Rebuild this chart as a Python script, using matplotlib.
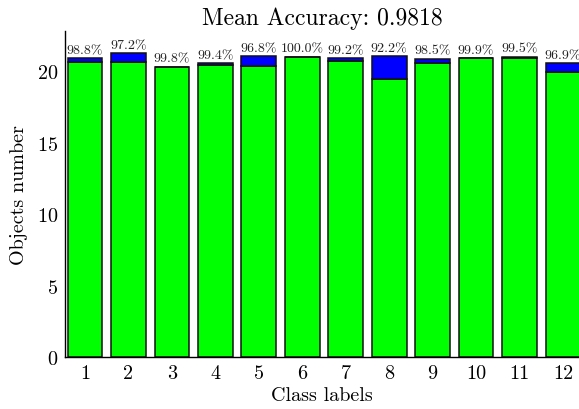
import matplotlib
matplotlib.use('Agg')
import matplotlib.pyplot as plt
import numpy as np

# ── Style ─────────────────────────────────────────────────────────────────────

matplotlib.rcParams.update({
    "font.family": "cmr10",
    "mathtext.fontset": "cm",
    "axes.formatter.use_mathtext": True,
    "axes.spines.top": False,
    "axes.spines.right": False,
})

CORRECT_COLOUR = "#00FF00"
WRONG_COLOUR = "#0000FF"

# ── Data ──────────────────────────────────────────────────────────────────────

class_labels = ['1', '2', '3', '4', '5', '6', '7', '8', '9', '10', '11', '12']
# objects per class (averaged over runs)
class_totals = [20.9, 21.25, 20.3, 20.55, 21.05, 21.0, 20.9, 21.05, 20.85, 20.9, 21.0, 20.55]
# per-class accuracy in percent
class_accuracy = [98.8, 97.2, 99.8, 99.4, 96.8, 100.0, 99.2, 92.2, 98.5, 99.9, 99.5, 96.9]

# ── Plot ──────────────────────────────────────────────────────────────────────

x = np.arange(1, len(class_labels) + 1)
totals = np.array(class_totals)
acc = np.array(class_accuracy) / 100.0
correct = totals * acc
wrong = totals - correct
mean_acc = np.mean(acc)

fig = plt.figure(figsize=(5.79, 4.10), dpi=100)
ax = fig.add_axes([65 / 579, 52 / 410, 1 - 65 / 579, (358 - 32) / 410])

ax.bar(x, correct, width=0.8, color=CORRECT_COLOUR, edgecolor='#111111', linewidth=1.1)
ax.bar(x, wrong, width=0.8, bottom=correct, color=WRONG_COLOUR,
       edgecolor='#111111', linewidth=1.1)

# accuracy label above each stacked bar (last one runs off the canvas)
for xi, tot, a in zip(x, totals, class_accuracy):
    ax.text(xi, tot + 0.15, f"{a:.1f}%", ha='center', va='bottom',
            fontsize=10, color='#222222', clip_on=False)

ax.set_xlim(0.54, 12.37)
ax.set_ylim(0, 22.8)
ax.set_xticks(x)
ax.set_xticklabels(class_labels)
ax.set_yticks([0, 5, 10, 15, 20])
ax.tick_params(axis='both', length=0, labelsize=14.5, pad=5)
ax.spines['left'].set_linewidth(1.0)
ax.spines['bottom'].set_linewidth(1.0)

ax.set_title(f"Mean Accuracy: {mean_acc:.4f}", fontsize=17, pad=5)
ax.set_xlabel("Class labels", fontsize=14.5, labelpad=3)
ax.set_ylabel("Objects number", fontsize=14.5, labelpad=6)

fig.savefig("out.png", dpi=100, facecolor='white')
